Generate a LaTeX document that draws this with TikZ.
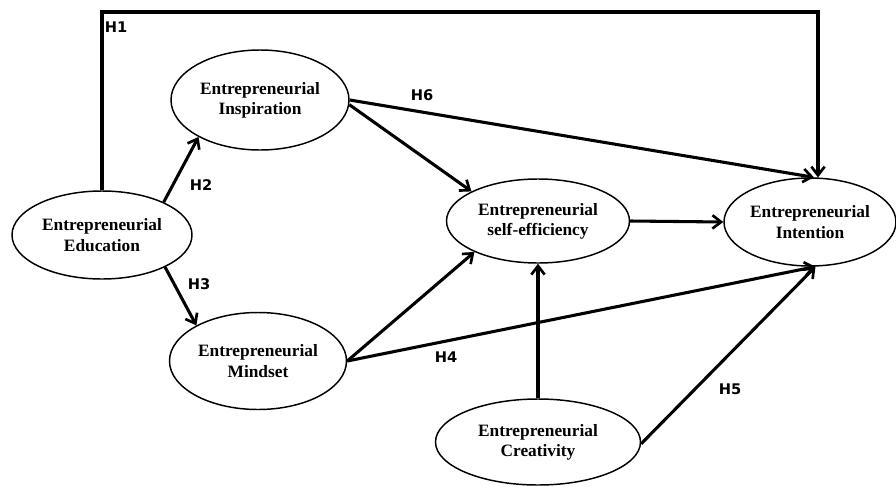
\documentclass[tikz,border=0pt]{standalone}
\usepackage{fontspec}
\setmainfont{Liberation Serif}
\newfontfamily\lblfont{DejaVu Sans}
\usetikzlibrary{shapes.geometric,arrows.meta}
\tikzset{
  construct/.style={ellipse, draw, line width=1.1pt, inner sep=0pt, align=center,
    font=\fontsize{13}{15.2}\selectfont\bfseries},
  link/.style={line width=2.3pt, -{Straight Barb[length=6.5pt,width=10pt,line width=2pt]}},
  hyp/.style={font=\lblfont\bfseries\fontsize{11}{12}\selectfont, inner sep=0pt}
}
\begin{document}
\begin{tikzpicture}[x=0.75pt,y=-0.75pt]
\useasboundingbox (0,0) rectangle (896,486);
\node[construct, minimum width=180*0.75pt, minimum height=88*0.75pt] (edu) at (102,235) {Entrepreneurial\\Education};
\node[construct, minimum width=178*0.75pt, minimum height=100*0.75pt] (insp) at (260,100) {Entrepreneurial\\Inspiration};
\node[construct, minimum width=177*0.75pt, minimum height=97*0.75pt] (mind) at (258,361) {Entrepreneurial\\Mindset};
\node[construct, minimum width=183*0.75pt, minimum height=84*0.75pt] (self) at (538,221) {Entrepreneurial\\self-efficiency};
\node[construct, minimum width=172*0.75pt, minimum height=88*0.75pt] (int) at (810,222) {Entrepreneurial\\Intention};
\node[construct, minimum width=205*0.75pt, minimum height=86*0.75pt] (crea) at (538,442) {Entrepreneurial\\Creativity};
\coordinate (h1c) at (818,12);
% H1
\draw[link] (edu.north) |- (h1c) -- (h1c |- int.80);
% H2, H3
\draw[link] (edu.28) -- (insp.211);
\draw[link] (edu.-27) -- (mind.150);
% H6
\draw[link] (insp.0) -- (int.85);
\draw[link] (insp.-3) -- (self.156);
% Mindset
\draw[link] (mind.0) -- (self.206);
\draw[link] (mind.0) -- (int.277);
% self to intention
\draw[link] (self.0) -- (int.180);
% creativity
\draw[link] (crea.90) -- (self.270);
\draw[link] (crea.-1) -- (int.277);
% labels
\node[hyp] (lh1) at (116,27) {H1};
\node[hyp] (lh2) at (201,185) {H2};
\node[hyp] (lh3) at (199,284) {H3};
\node[hyp] (lh4) at (446,357) {H4};
\node[hyp] (lh5) at (730,389) {H5};
\node[hyp] (lh6) at (422,95) {H6};
\end{tikzpicture}
\end{document}
